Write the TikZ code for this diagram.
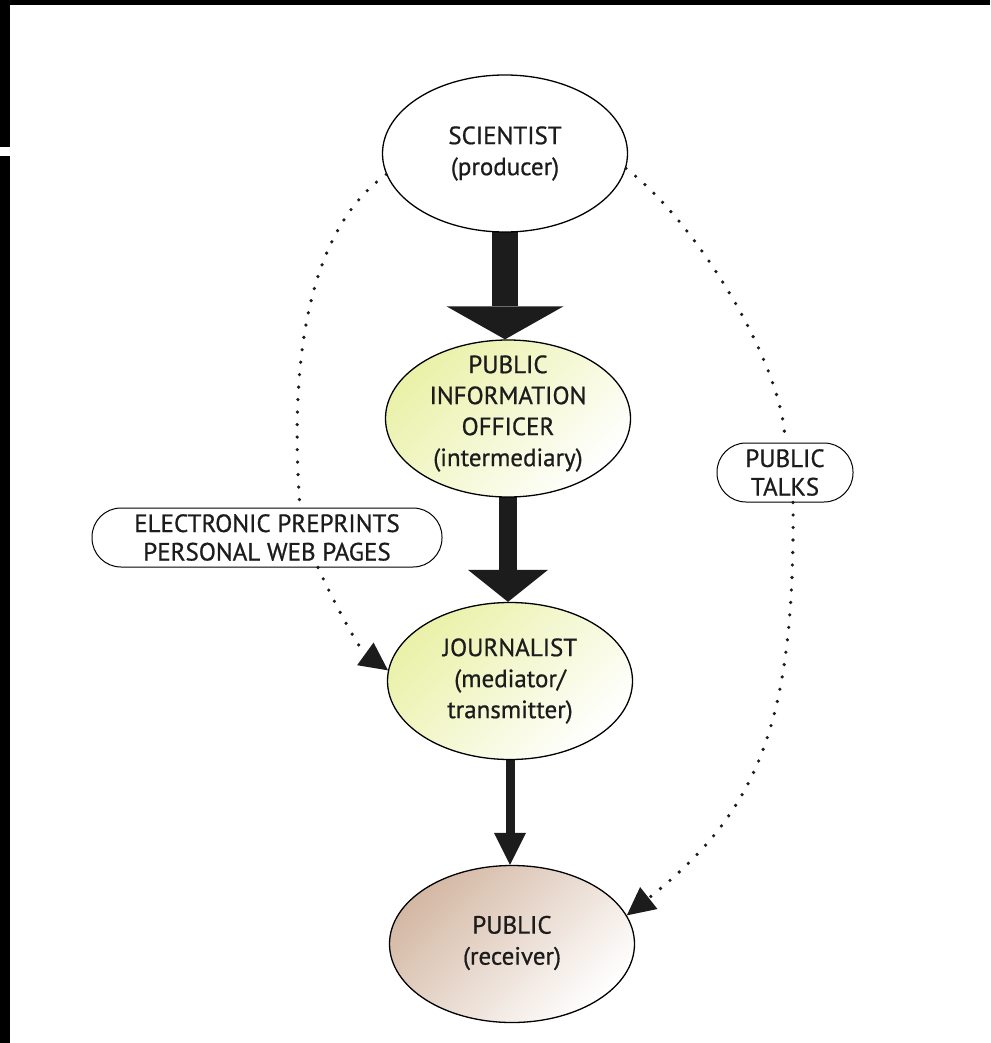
\documentclass[tikz,border=0pt]{standalone}
\usepackage{fontspec}
\setmainfont[FakeBold=0.7]{PT Sans}
\usetikzlibrary{arrows.meta,shapes.geometric,backgrounds,calc}
\definecolor{ink}{HTML}{1C1C1C}
\definecolor{pioY}{HTML}{EAF1A8}
\definecolor{pubB}{HTML}{D4B8A4}
\begin{document}
\begin{tikzpicture}[x=1pt,y=-1pt,
  ell/.style={ellipse, draw=black, line width=1.3pt, minimum width=245pt, minimum height=157pt, inner sep=0pt},
  lbl/.style={align=center, text=ink, font=\fontsize{25}{31}\selectfont, inner sep=0pt},
  pill/.style={draw=black, line width=1pt, fill=white, rounded corners=29pt, minimum height=59pt, align=center, text=ink, font=\fontsize{25}{28.5}\selectfont, inner sep=0pt},
  dots/.style={line width=3.6pt, line cap=round, dash pattern=on 0pt off 12.5pt, draw=ink},
  dtip/.style={-{Triangle[length=28pt,width=28pt,line width=0pt]}},
  bigarrow/.style={draw=ink, color=ink}
  ]
\useasboundingbox (0,0) rectangle (990,1043);

% main nodes
\node[ell, fill=white] (sci) at (505,153.5) {};
\node[lbl] (scit) at (sci) {SCIENTIST\\(producer)};
\node[ell, left color=pioY, right color=white, shading angle=45] (pio) at (508,418.5) {};
\node[lbl] (piot) at ($(pio)+(0,-5)$) {PUBLIC\\INFORMATION\\OFFICER\\(intermediary)};
\node[ell, left color=pioY, right color=white, shading angle=45] (jour) at (510,681) {};
\node[lbl] (jourt) at (jour) {JOURNALIST\\(mediator/\\transmitter)};
\node[ell, left color=pubB, right color=white, shading angle=45] (pub) at (512,944) {};
\node[lbl] (pubt) at ($(pub)+(0,-1)$) {PUBLIC\\(receiver)};

% label pills
\node[pill, minimum width=350pt] (elec) at (267,537.5) {ELECTRONIC PREPRINTS\\PERSONAL WEB PAGES};
\node[pill, minimum width=136pt] (talks) at (785,472.5) {PUBLIC\\TALKS};

% background: page, scan borders, thick arrows
\begin{scope}[on background layer]
\fill[white] (0,0) rectangle (990,1043);
\fill[black] (0,0) rectangle (990,5);
\fill[black] (0,0) rectangle (10,147);
\fill[black] (0,156) rectangle (10,1043);
\draw[bigarrow, line width=26pt, -{Triangle[length=33pt,width=117pt,line width=0pt]}] (sci.center) -- (sci.center |- pio.north);
\draw[bigarrow, line width=18pt, -{Triangle[length=32pt,width=80pt,line width=0pt]}] (pio.center) -- (pio.center |- jour.north);
\draw[bigarrow, line width=9pt, -{Triangle[length=32pt,width=32pt,line width=0pt]}] (jour.center) -- (jour.center |- pub.north);
\end{scope}

% dotted connectors
\draw[dots] (sci.-7) .. controls (700,225) and (785,370) .. (talks.north);
\draw[dots, dtip] ($(talks.south)+(8,0)$) .. controls (795,720) and (760,810) .. (pub.14);
\draw[dots] (sci.190) .. controls (295,240) and (292,400) .. ($(elec.north)+(33,0)$);
\draw[dots, dtip] ($(elec.south)+(51,0)$) .. controls (335,605) and (360,650) .. (jour.175);
\end{tikzpicture}
\end{document}
